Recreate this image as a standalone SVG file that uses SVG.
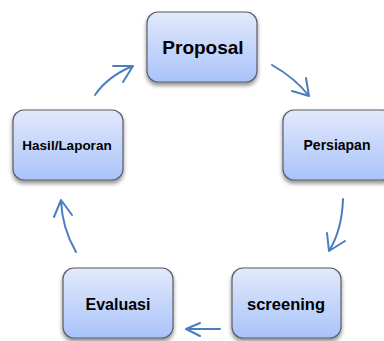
<svg xmlns="http://www.w3.org/2000/svg" width="384" height="341" viewBox="0 0 384 341">
<defs>
<linearGradient id="g" x1="0" y1="0" x2="0" y2="1">
<stop offset="0" stop-color="#e3e9fb"/>
<stop offset="1" stop-color="#a8c3fa"/>
</linearGradient>
<filter id="sh" x="-20%" y="-20%" width="140%" height="150%">
<feGaussianBlur in="SourceAlpha" stdDeviation="2"/>
<feOffset dx="0" dy="3" result="b"/>
<feComponentTransfer><feFuncA type="linear" slope="0.45"/></feComponentTransfer>
<feMerge><feMergeNode/><feMergeNode in="SourceGraphic"/></feMerge>
</filter>
</defs>
<style>
.box{fill:url(#g);stroke:#5a5e66;stroke-width:1.2;filter:url(#sh)}
.t{font-family:"Liberation Sans",Arial,sans-serif;font-weight:bold;fill:#000;text-anchor:middle;dominant-baseline:central}
.c{fill:none;stroke:#4a7ec0;stroke-width:2;stroke-linecap:round;stroke-linejoin:round}
</style>
<rect width="384" height="341" fill="#fff"/>
<g id="proposal"><rect class="box" x="147" y="12" width="110" height="70" rx="11"/><text class="t" x="203" y="47" font-size="19">Proposal</text></g>
<g id="persiapan"><rect class="box" x="283" y="110" width="110" height="70" rx="11"/><text class="t" x="337" y="145" font-size="14">Persiapan</text></g>
<g id="screening"><rect class="box" x="232" y="268" width="109" height="70" rx="11"/><text class="t" x="286" y="304" font-size="16.5">screening</text></g>
<g id="evaluasi"><rect class="box" x="63" y="268" width="110" height="70" rx="11"/><text class="t" x="118" y="304" font-size="16">Evaluasi</text></g>
<g id="hasil"><rect class="box" x="13" y="110" width="110" height="70" rx="11"/><text class="t" x="67" y="145" font-size="13.5">Hasil/Laporan</text></g>
<g id="connectors">
<path class="c" d="M95 95 Q108 76 133 66 M113 66 L133 66 L123 82"/>
<path class="c" d="M272 65 Q295 78 309 96 M306 78 L309 96 L292 91"/>
<path class="c" d="M343 199 Q342 230 329 251 M327 233 L329 251 L345 241"/>
<path class="c" d="M220 329 L186 329 M200 323 L186 329 L200 336"/>
<path class="c" d="M76 252 Q62 228 61 200 M54 217 L61 200 L72 215"/>
</g>
</svg>
